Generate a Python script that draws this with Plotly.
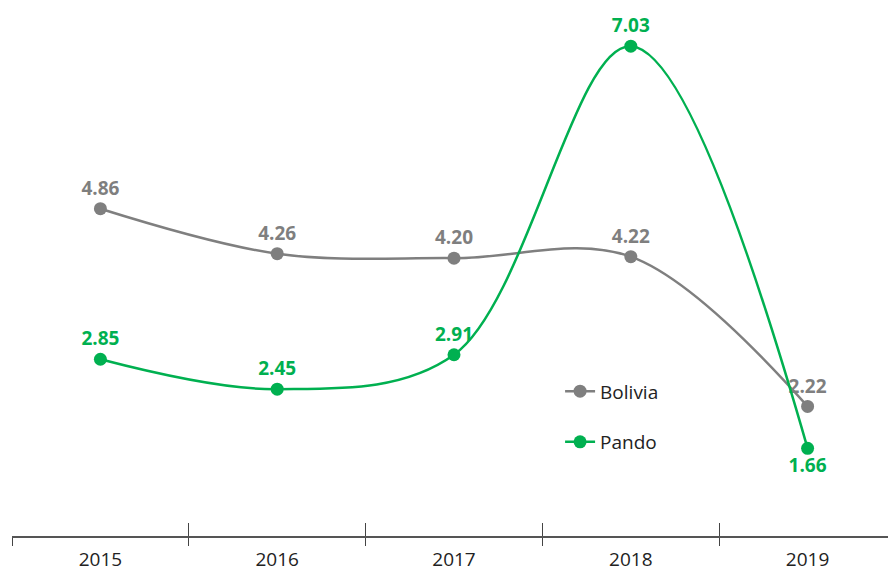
import plotly.graph_objects as go

years = ["2015", "2016", "2017", "2018", "2019"]
bolivia = [4.86, 4.26, 4.20, 4.22, 2.22]
pando = [2.85, 2.45, 2.91, 7.03, 1.66]

gray = "#7f7f7f"
green = "#00b050"
font = "Open Sans, Noto Sans, sans-serif"

fig = go.Figure()
fig.add_trace(go.Scatter(
    x=years, y=bolivia, name="Bolivia", legendgroup="b",
    mode="lines+markers+text",
    line=dict(color=gray, width=2.5, shape="spline", smoothing=1.0),
    marker=dict(color=gray, size=13),
    text=[f"{v:.2f}" for v in bolivia], textposition="top center",
    textfont=dict(color=gray, size=19, family=font, weight="bold"),
))
fig.add_trace(go.Scatter(
    x=years, y=pando, name="Pando", legendgroup="p",
    mode="lines+markers+text",
    line=dict(color=green, width=2.5, shape="spline", smoothing=1.0),
    marker=dict(color=green, size=13),
    text=[f"{v:.2f}" for v in pando],
    textposition=["top center"] * 4 + ["bottom center"],
    textfont=dict(color=green, size=19, family=font, weight="bold"),
))

fig.update_layout(
    width=896, height=574,
    margin=dict(l=4, r=8, t=0, b=46),
    paper_bgcolor="white", plot_bgcolor="white",
    font=dict(family=font, size=18, color="#222"),
    legend=dict(x=0.62, y=0.31, xanchor="left", yanchor="top",
                font=dict(size=19, color="#222", family=font),
                tracegroupgap=23, bgcolor="rgba(0,0,0,0)", itemwidth=30),
    xaxis=dict(type="category", range=[-0.5, 4.5], showgrid=False,
               showline=True, linecolor="#555", linewidth=2,
               ticks="outside", ticklen=8, tickcolor="#444", tickwidth=1,
               tickson="boundaries", tickfont=dict(size=19, color="#222"),
               ticklabelstandoff=5, zeroline=False),
    xaxis2=dict(type="category", range=[-0.5, 4.5], overlaying="x", anchor="y",
                side="bottom", showgrid=False, showline=False,
                ticks="inside", ticklen=13, tickcolor="#444", tickwidth=1,
                tickson="boundaries", showticklabels=False,
                categoryarray=years),
    yaxis=dict(range=[0.49, 7.54], visible=False, showgrid=False, zeroline=False),
)
fig.add_trace(go.Scatter(x=years, y=[None] * 5, xaxis="x2", showlegend=False,
                         hoverinfo="skip"))

fig.write_html("out.html")
